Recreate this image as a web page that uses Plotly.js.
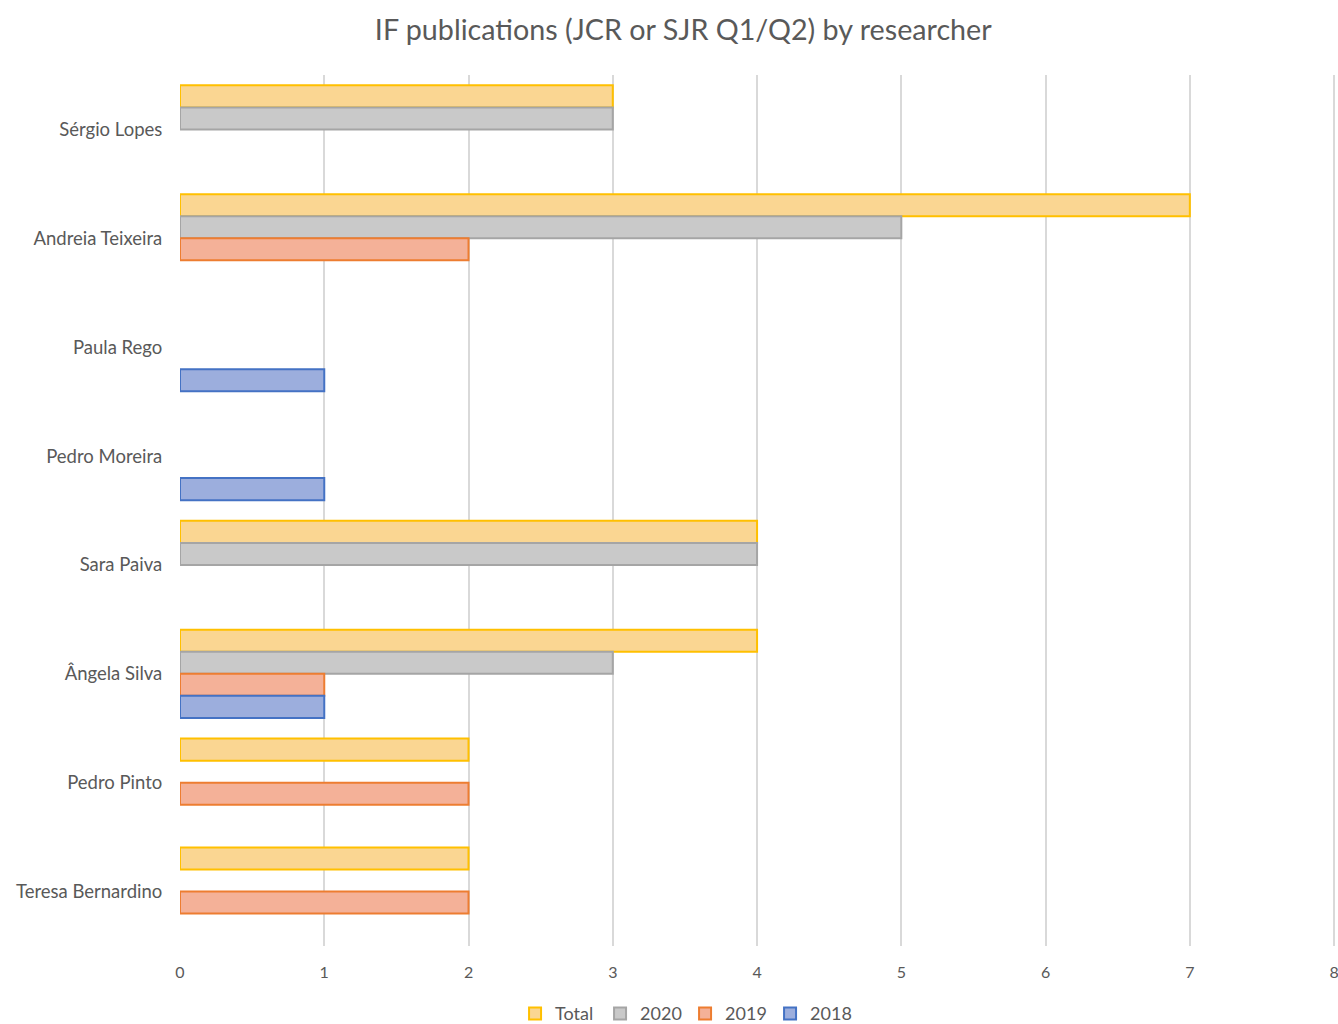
<!DOCTYPE html>
<html>
<head>
<meta charset="utf-8">
<script src="https://cdn.plot.ly/plotly-3.0.1.min.js"></script>
<style>html,body{margin:0;padding:0;background:#fff;}#chart{width:1338px;height:1024px;}</style>
</head>
<body>
<div id="chart"></div>
<script>
const researchers = ["Sérgio Lopes", "Andreia Teixeira", "Paula Rego", "Pedro Moreira", "Sara Paiva", "Ângela Silva", "Pedro Pinto", "Teresa Bernardino"];
const total = [3, 7, null, null, 4, 4, 2, 2];
const y2020 = [3, 5, null, null, 4, 3, null, null];
const y2019 = [null, 2, null, null, null, 1, 2, 2];
const y2018 = [null, null, 1, 1, null, 1, null, null];
const xTicks = [0, 1, 2, 3, 4, 5, 6, 7, 8];

const series = [
  {name: "Total", values: total, fill: "#FAD692", line: "#FFC000"},
  {name: "2020", values: y2020, fill: "#C9C9C9", line: "#A5A5A5"},
  {name: "2019", values: y2019, fill: "#F4B198", line: "#ED7D31"},
  {name: "2018", values: y2018, fill: "#9CAEDD", line: "#4472C4"}
];

const traces = series.map(s => ({
  type: "bar",
  orientation: "h",
  name: s.name,
  y: researchers,
  x: s.values,
  marker: {color: s.fill, line: {color: s.line, width: 2}},
  hoverinfo: "x+y+name"
}));

const layout = {
  width: 1338,
  height: 1024,
  paper_bgcolor: "#ffffff",
  plot_bgcolor: "#ffffff",
  font: {family: "Lato, 'Open Sans', sans-serif", color: "#595959", size: 16},
  title: {text: "IF publications (JCR or SJR Q1/Q2) by researcher", font: {size: 28.7, color: "#595959"}, xref: "paper", x: 0.435, xanchor: "center", y: 0.971, yanchor: "middle"},
  margin: {l: 180, r: 1, t: 75, b: 78},
  barmode: "group",
  bargap: 0.19,
  bargroupgap: 0,
  xaxis: {
    range: [0, 8.02],
    tickvals: xTicks,
    showgrid: true,
    gridcolor: "#D9D9D9",
    gridwidth: 2,
    zeroline: false,
    showline: false,
    ticks: "outside",
    ticklen: 12,
    tickcolor: "rgba(0,0,0,0)",
    tickfont: {size: 16, color: "#595959"},
    ticklabeloverflow: "allow",
    automargin: false
  },
  yaxis: {
    type: "category",
    categoryorder: "array",
    categoryarray: researchers,
    autorange: "reversed",
    showgrid: false,
    zeroline: false,
    showline: false,
    ticks: "outside",
    ticklen: 13,
    tickcolor: "rgba(0,0,0,0)",
    tickfont: {size: 18.5, color: "#595959"},
    automargin: false
  },
  legend: {
    orientation: "h",
    xref: "container",
    x: 0.512, xanchor: "center",
    yref: "container",
    y: 0.01, yanchor: "middle",
    font: {size: 18, color: "#595959"},
    itemwidth: 30,
    entrywidth: 40,
    entrywidthmode: "pixels",
    traceorder: "normal"
  },
  showlegend: true
};

Plotly.newPlot("chart", traces, layout, {displayModeBar: false, staticPlot: true});
</script>
</body>
</html>
